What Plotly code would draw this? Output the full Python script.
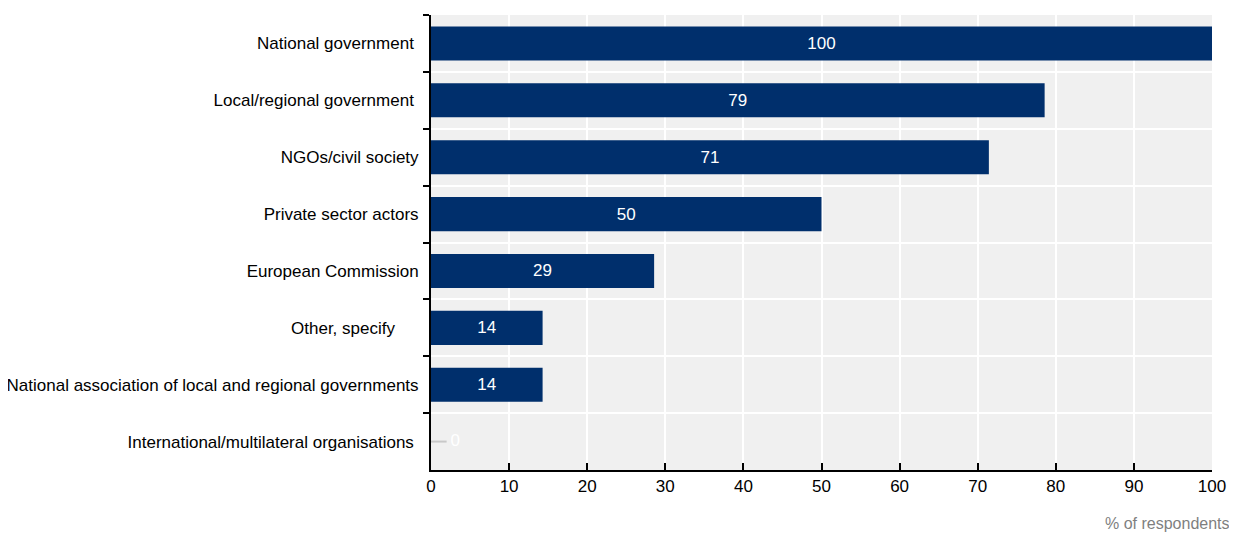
import plotly.graph_objects as go

categories = [
    "National government\u00a0",
    "Local/regional government\u00a0",
    "NGOs/civil society",
    "Private sector actors",
    "European Commission",
    "Other, specify\u00a0\u00a0\u00a0\u00a0\u00a0",
    "National association of local and regional governments",
    "International/multilateral organisations\u00a0",
]
values = [100, 78.57, 71.43, 50, 28.57, 14.29, 14.29, 0]
labels = ["100", "79", "71", "50", "29", "14", "14", "0"]
x_ticks = [0, 10, 20, 30, 40, 50, 60, 70, 80, 90, 100]

FONT = "Liberation Sans Narrow, Arial Narrow, Liberation Sans, Arial, sans-serif"
BAR = "#002f6c"

fig = go.Figure()
fig.add_trace(go.Bar(
    y=categories, x=values, orientation="h",
    marker=dict(color=BAR, line=dict(width=0)),
    text=[t if v > 0 else "" for t, v in zip(labels, values)],
    textposition="inside",
    insidetextanchor="middle",
    textfont=dict(color="white", size=17, family=FONT),
    cliponaxis=False,
    hoverinfo="skip",
))
# small gray marker and label for zero-valued bars
for c, v, t in zip(categories, values, labels):
    if v == 0:
        fig.add_trace(go.Scatter(
            x=[v, v + 2], y=[c, c], mode="lines",
            line=dict(color="#c8c8c8", width=2), hoverinfo="skip", showlegend=False,
        ))
        fig.add_trace(go.Scatter(
            x=[v + 2.5], y=[c], mode="text", text=[t], textposition="middle right",
            textfont=dict(color="white", size=17, family=FONT),
            hoverinfo="skip", showlegend=False, cliponaxis=False,
        ))

fig.update_layout(
    width=1229, height=527,
    margin=dict(l=423, r=25, t=7, b=65),
    plot_bgcolor="#f0f0f0", paper_bgcolor="white",
    bargap=0.4, showlegend=False,
    font=dict(family=FONT, size=17, color="#000000"),
)
fig.update_xaxes(
    range=[0, 100], tickvals=x_ticks, showgrid=True, gridcolor="white", gridwidth=2,
    showline=True, linecolor="black", linewidth=2,
    ticks="inside", ticklen=7, tickcolor="black", tickwidth=2,
    tickfont=dict(size=17, color="#000000"), zeroline=False, fixedrange=True,
    automargin=False,
)
fig.update_yaxes(
    autorange="reversed", type="category",
    showline=True, linecolor="black", linewidth=2,
    ticks="outside", tickson="boundaries", ticklen=6, tickcolor="black", tickwidth=2,
    showgrid=True, gridcolor="white", gridwidth=2, ticklabelstandoff=7,
    tickfont=dict(size=17, color="#000000"), fixedrange=True, automargin=False,
)
fig.add_annotation(
    text="% of respondents", xref="paper", yref="paper", x=1.026, y=-0.117,
    xanchor="right", yanchor="middle", showarrow=False,
    font=dict(size=16, color="#7f7f7f", family=FONT),
)
fig.write_html("out.html")
